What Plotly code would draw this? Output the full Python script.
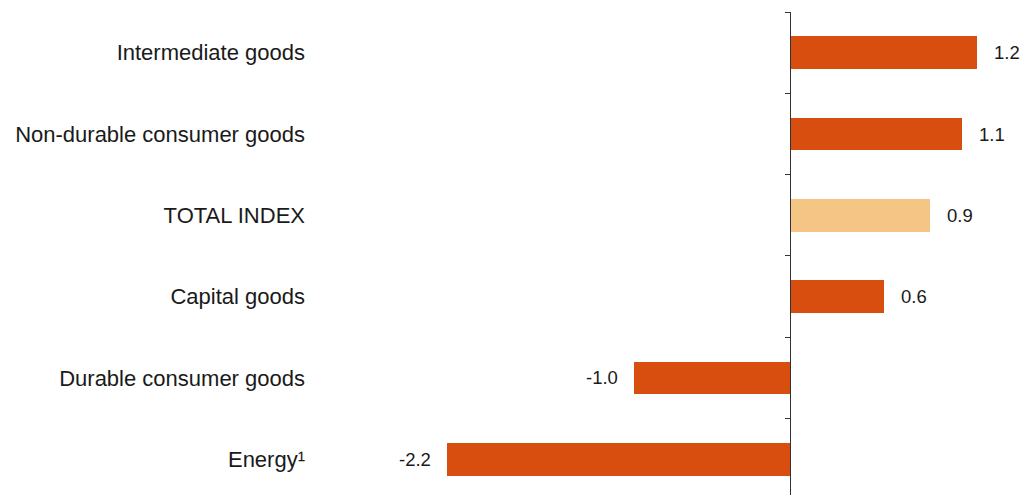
import plotly.graph_objects as go

categories = ["Intermediate goods", "Non-durable consumer goods", "TOTAL INDEX",
              "Capital goods", "Durable consumer goods", "Energy¹"]
values = [1.2, 1.1, 0.9, 0.6, -1.0, -2.2]
value_labels = ["1.2", "1.1", "0.9", "0.6", "-1.0", "-2.2"]
bar_colors = ["#D84E0E", "#D84E0E", "#F5C585", "#D84E0E", "#D84E0E", "#D84E0E"]

n = len(categories)
ypos = [n - 1 - i for i in range(n)]

W, H = 1023, 495
ml, mt = 306, 12
zero_px = 790
px_per_unit = 156.0
xmin = -(zero_px - ml) / px_per_unit
xmax = xmin + (W - ml) / px_per_unit
cat_px = 81.33
ymax = n - 0.5
ymin = ymax - (H - mt) / cat_px

fig = go.Figure()
fig.add_trace(go.Bar(
    x=values, y=ypos, orientation="h", width=0.4,
    marker=dict(color=bar_colors, line=dict(width=0)),
    hoverinfo="skip", showlegend=False,
))
# invisible trace for the zero axis
fig.add_trace(go.Scatter(x=[0], y=[0], yaxis="y2", mode="markers",
                         marker=dict(opacity=0), showlegend=False, hoverinfo="skip"))

for v, lab, yp in zip(values, value_labels, ypos):
    fig.add_annotation(
        x=v, y=yp, text=lab, showarrow=False,
        xanchor="left" if v >= 0 else "right",
        xshift=15 if v >= 0 else -14,
        font=dict(size=18.5, color="#1a1a1a", family="Liberation Sans, Arial, sans-serif"),
    )

fig.update_layout(
    width=W, height=H,
    margin=dict(l=ml, r=0, t=mt, b=0, pad=0),
    plot_bgcolor="white", paper_bgcolor="white",
    bargap=0,
    font=dict(family="Liberation Sans, Arial, sans-serif", color="#1a1a1a"),
    xaxis=dict(range=[xmin, xmax], visible=False, showgrid=False, zeroline=False, fixedrange=True),
    yaxis=dict(range=[ymin, ymax], tickvals=ypos, ticktext=categories,
               showgrid=False, zeroline=False, showline=False, ticks="",
               tickfont=dict(size=22, color="#1a1a1a"), fixedrange=True),
    yaxis2=dict(range=[ymin, ymax], overlaying="y", anchor="free",
                position=(0 - xmin) / (xmax - xmin), side="left",
                tickvals=[i + 0.5 for i in range(n)], showticklabels=False,
                ticks="outside", ticklen=5, tickwidth=1, tickcolor="#333333",
                showline=True, linecolor="#333333", linewidth=1.3,
                showgrid=False, zeroline=False, fixedrange=True),
)

fig.write_html(
    "out.html",
    config={"displayModeBar": False, "staticPlot": True},
    post_script="document.body.style.margin='0';document.body.style.overflow='hidden';",
)
